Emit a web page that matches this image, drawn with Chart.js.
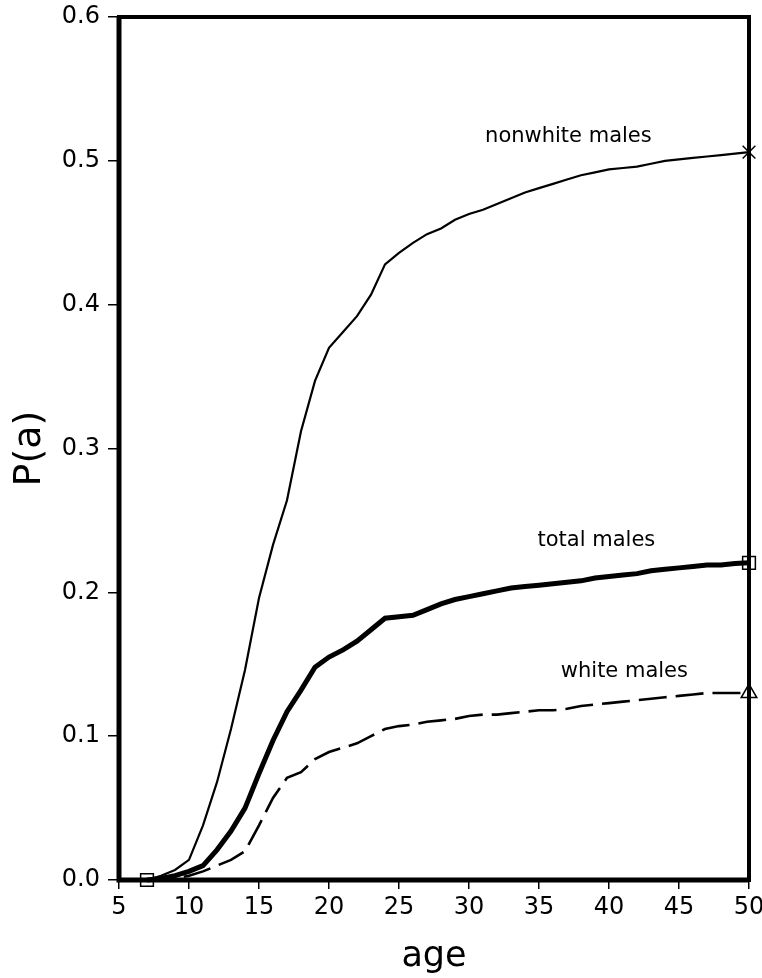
<!DOCTYPE html>
<html>
<head>
<meta charset="utf-8">
<script src="https://cdn.jsdelivr.net/npm/chart.js@4"></script>
<style>
  html, body { margin: 0; padding: 0; background: #fff; }
  #wrap { width: 762px; height: 978px; }
</style>
</head>
<body>
<div id="wrap"><canvas id="chart" width="762" height="978"></canvas></div>
<script>
// P(a) by age — cumulative probability curves, three groups of males
const ages = [7, 8, 9, 10, 11, 12, 13, 14, 15, 16, 17, 18, 19, 20, 21, 22, 23, 24, 25, 26, 27, 28,
  29, 30, 31, 32, 33, 34, 35, 36, 37, 38, 39, 40, 41, 42, 43, 44, 45, 46, 47, 48, 49, 50];

const nonwhiteMales = [0, 0.003, 0.007, 0.014, 0.038, 0.068, 0.105, 0.146, 0.196, 0.233, 0.264, 0.312,
  0.347, 0.370, 0.381, 0.392, 0.407, 0.428, 0.436, 0.443, 0.449, 0.453, 0.459, 0.463, 0.466, 0.470,
  0.474, 0.478, 0.481, 0.484, 0.487, 0.490, 0.492, 0.494, 0.495, 0.496, 0.498, 0.500, 0.501, 0.502,
  0.503, 0.504, 0.505, 0.506];

const totalMales = [0, 0.001, 0.003, 0.006, 0.010, 0.021, 0.034, 0.050, 0.074, 0.097, 0.117, 0.132,
  0.148, 0.155, 0.160, 0.166, 0.174, 0.182, 0.183, 0.184, 0.188, 0.192, 0.195, 0.197, 0.199, 0.201,
  0.203, 0.204, 0.205, 0.206, 0.207, 0.208, 0.210, 0.211, 0.212, 0.213, 0.215, 0.216, 0.217, 0.218,
  0.219, 0.219, 0.220, 0.2205];

const whiteMales = [0, 0, 0.001, 0.003, 0.006, 0.010, 0.014, 0.020, 0.038, 0.057, 0.071, 0.075,
  0.084, 0.089, 0.092, 0.095, 0.100, 0.105, 0.107, 0.108, 0.110, 0.111, 0.112, 0.114, 0.115, 0.115,
  0.116, 0.117, 0.118, 0.118, 0.119, 0.121, 0.122, 0.123, 0.124, 0.125, 0.126, 0.127, 0.128, 0.129,
  0.130, 0.130, 0.130, 0.130];

const xTicks = [5, 10, 15, 20, 25, 30, 35, 40, 45, 50];
const yTicks = [0, 0.1, 0.2, 0.3, 0.4, 0.5, 0.6];

// curve labels (text only), anchored in data units
const labelTexts = ['nonwhite males', 'total males', 'white males'];
const labelAges  = [37.1, 39.1, 41.1];
const labelVals  = [0.517, 0.236, 0.145];

const toPts = vals => ages.map((a, i) => ({ x: a, y: vals[i] }));
const last = ages.length - 1;

// draws the closed black frame around the plot area
const framePlugin = {
  id: 'frame',
  beforeDatasetsDraw(chart) {
    const { ctx, chartArea: a } = chart;
    ctx.save();
    ctx.strokeStyle = '#000';
    ctx.lineWidth = 4;
    ctx.strokeRect(a.left, a.top, a.right - a.left, a.bottom - a.top);
    ctx.lineWidth = 5;
    ctx.beginPath();
    ctx.moveTo(a.left, a.top); ctx.lineTo(a.left, a.bottom); ctx.lineTo(a.right, a.bottom);
    ctx.stroke();
    ctx.restore();
  }
};

const labelPlugin = {
  id: 'curveLabels',
  afterDatasetsDraw(chart) {
    const { ctx, scales: { x, y } } = chart;
    ctx.save();
    ctx.fillStyle = '#000';
    ctx.font = '21px "DejaVu Sans"';
    ctx.textAlign = 'center';
    ctx.textBaseline = 'middle';
    labelTexts.forEach((t, i) => {
      ctx.fillText(t, x.getPixelForValue(labelAges[i]), y.getPixelForValue(labelVals[i]));
    });
    ctx.restore();
  }
};

const endMarker = (style, startStyle) => ({
  pointStyle: c => (c.dataIndex === last ? style : (c.dataIndex === 0 && startStyle ? startStyle : false)),
  pointRadius: c => (c.dataIndex === last || (c.dataIndex === 0 && startStyle) ? 9 : 0),
  pointBorderColor: '#000',
  pointBackgroundColor: 'rgba(0,0,0,0)',
  pointBorderWidth: 1.5,
});

new Chart(document.getElementById('chart'), {
  type: 'line',
  data: {
    datasets: [
      { label: 'nonwhite males', data: toPts(nonwhiteMales), borderColor: '#000', borderWidth: 2.2,
        tension: 0, clip: false, ...endMarker('crossRot') },
      { label: 'total males', data: toPts(totalMales), borderColor: '#000', borderWidth: 5,
        tension: 0, clip: false, ...endMarker('rect', 'rect') },
      { label: 'white males', data: toPts(whiteMales), borderColor: '#000', borderWidth: 2.6,
        borderDash: [28, 9], tension: 0, clip: false, ...endMarker('triangle') },
    ]
  },
  options: {
    responsive: false,
    animation: false,
    layout: { padding: { top: 17, right: 13, left: 0, bottom: 0 } },
    plugins: { legend: { display: false }, tooltip: { enabled: false } },
    scales: {
      x: {
        type: 'linear', min: 5, max: 50,
        afterBuildTicks: s => { s.ticks = xTicks.map(v => ({ value: v })); },
        afterFit: s => { s.height = 98; s.paddingLeft = 0; s.paddingRight = 0; },
        border: { display: false },
        grid: { drawOnChartArea: false, drawTicks: true, tickLength: 9, color: '#000', lineWidth: 1.5 },
        ticks: { color: '#000', font: { family: 'DejaVu Sans', size: 24 }, padding: 4, maxRotation: 0 },
        title: { display: true, text: 'age', color: '#000', font: { family: 'DejaVu Sans', size: 35 },
          padding: { top: 0, bottom: 0 } }
      },
      y: {
        type: 'linear', min: 0, max: 0.6,
        afterBuildTicks: s => { s.ticks = yTicks.map(v => ({ value: v })); },
        afterFit: s => { s.width = 119; s.paddingTop = 0; s.paddingBottom = 0; },
        border: { display: false },
        grid: { drawOnChartArea: false, drawTicks: true, tickLength: 11, color: '#000', lineWidth: 1.5 },
        ticks: { color: '#000', font: { family: 'DejaVu Sans', size: 24 }, padding: 8,
          callback: v => v.toFixed(1) },
        title: { display: true, text: 'P(a)', color: '#000', font: { family: 'DejaVu Sans', size: 38 },
          padding: { top: 7, bottom: 0 } }
      }
    }
  },
  plugins: [framePlugin, labelPlugin]
});
</script>
</body>
</html>
